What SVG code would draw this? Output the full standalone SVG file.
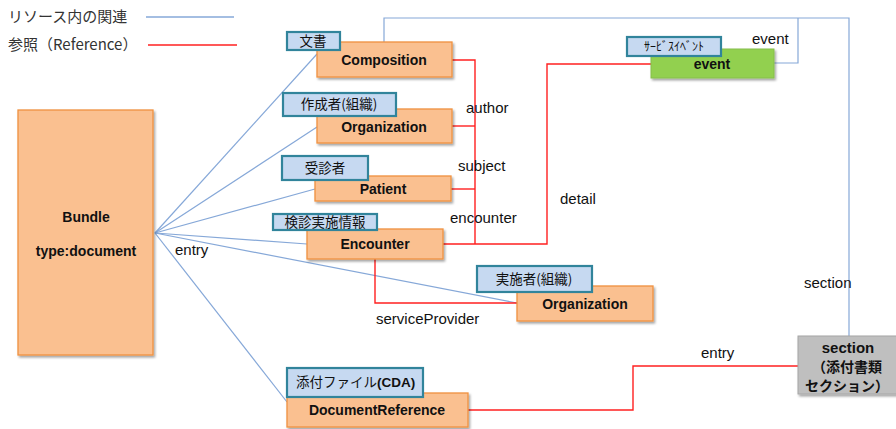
<svg xmlns="http://www.w3.org/2000/svg" width="896" height="429" viewBox="0 0 896 429">
  <defs>
    <filter id="shadow" x="-10%" y="-10%" width="130%" height="140%">
      <feDropShadow dx="1.5" dy="2" stdDeviation="1.2" flood-color="#000" flood-opacity="0.35"/>
    </filter>
  </defs>
  <style>
    .res { fill: #FAC090; stroke: #F0913F; stroke-width: 1.3; filter: url(#shadow); }
    .grn { fill: #92D050; stroke: #86BE4A; stroke-width: 1; filter: url(#shadow); }
    .sec { fill: #BFBFBF; stroke: #A6A6A6; stroke-width: 1; filter: url(#shadow); }
    .tag { fill: #C6D9F1; stroke: #31849B; stroke-width: 2.2; }
    .inner { fill: none; stroke: #86A8D8; stroke-width: 1.2; }
    .ref { fill: none; stroke: #FF2020; stroke-width: 1.4; }
    .t { font-family: "Liberation Sans", "Noto Sans CJK JP", sans-serif; fill: #111; }
    .b { font-weight: bold; font-size: 14px; text-anchor: middle; }
    .j { font-family: "Noto Sans CJK JP", "Liberation Sans", sans-serif; font-size: 13.5px; text-anchor: middle; fill: #111; }
    .js { font-family: "Noto Sans CJK JP", "Liberation Sans", sans-serif; font-size: 13.5px; text-anchor: start; fill: #111; }
    .lab { font-size: 15px; }
    .leg { font-family: "Noto Sans CJK JP", "Liberation Sans", sans-serif; font-size: 15px; fill: #333; }
  </style>

  <!-- legend -->
  <g id="legend">
    <text class="leg" x="8" y="22">リソース内の関連</text>
    <line x1="146" y1="17" x2="234" y2="17" stroke="#86A8D8" stroke-width="1.3"/>
    <text class="leg" x="8" y="50">参照（Reference）</text>
    <line x1="148" y1="45" x2="237" y2="45" stroke="#FF2020" stroke-width="1.4"/>
  </g>

  <!-- connectors -->
  <g id="connectors">
    <!-- Bundle entries -->
    <polyline class="inner" points="155,233 317,54"/>
    <polyline class="inner" points="155,233 317,127"/>
    <polyline class="inner" points="155,233 315,189"/>
    <polyline class="inner" points="155,233 307,244"/>
    <polyline class="inner" points="155,233 517,303"/>
    <polyline class="inner" points="155,233 287,402"/>
    <!-- Composition section / event -->
    <polyline class="inner" points="384,42 384,18 849,18 849,336"/>
    <polyline class="inner" points="798,18 798,63 774,63"/>
    <!-- references -->
    <polyline class="ref" points="452,60 475,60 475,244"/>
    <polyline class="ref" points="452,126 475,126"/>
    <polyline class="ref" points="451,189 475,189"/>
    <polyline class="ref" points="443,244 547,244 547,64 651,64"/>
    <polyline class="ref" points="375,259 375,303 517,303"/>
    <polyline class="ref" points="468,410 633,410 633,366 798,366"/>

    <text class="t lab" x="175" y="255">entry</text>
    <text class="t lab" x="466" y="113">author</text>
    <text class="t lab" x="458" y="171">subject</text>
    <text class="t lab" x="450" y="223">encounter</text>
    <text class="t lab" x="560" y="204">detail</text>
    <text class="t lab" x="376" y="324">serviceProvider</text>
    <text class="t lab" x="752" y="44">event</text>
    <text class="t lab" x="804" y="288">section</text>
    <text class="t lab" x="701" y="358">entry</text>
  </g>

  <g id="bundle">
    <rect class="res" x="18" y="110" width="135" height="245"/>
    <text class="t b" x="86" y="222">Bundle</text>
    <text class="t b" x="86" y="256">type:document</text>
  </g>

  <g id="composition">
    <rect class="res" x="317" y="42" width="135" height="35"/>
    <text class="t b" x="384" y="65">Composition</text>
    <rect class="tag" x="287" y="32" width="53" height="18"/>
    <text class="j" x="313" y="46">文書</text>
  </g>

  <g id="author-org">
    <rect class="res" x="317" y="109" width="135" height="34"/>
    <text class="t b" x="384" y="132">Organization</text>
    <rect class="tag" x="283" y="93" width="113" height="23"/>
    <text class="j" x="339" y="109">作成者(組織)</text>
  </g>

  <g id="patient">
    <rect class="res" x="315" y="176" width="136" height="25"/>
    <text class="t b" x="383" y="194">Patient</text>
    <rect class="tag" x="282" y="156" width="86" height="24"/>
    <text class="j" x="325" y="173">受診者</text>
  </g>

  <g id="encounter">
    <rect class="res" x="307" y="229" width="136" height="30"/>
    <text class="t b" x="375" y="249">Encounter</text>
    <rect class="tag" x="273" y="214" width="104" height="16"/>
    <text class="j" x="325" y="227">検診実施情報</text>
  </g>

  <g id="provider-org">
    <rect class="res" x="517" y="286" width="136" height="35"/>
    <text class="t b" x="585" y="309">Organization</text>
    <rect class="tag" x="477" y="266" width="115" height="26"/>
    <text class="j" x="534" y="284">実施者(組織)</text>
  </g>

  <g id="event">
    <rect class="grn" x="651" y="49" width="123" height="29"/>
    <text class="t b" x="712" y="69">event</text>
    <rect class="tag" x="627" y="37" width="94" height="19"/>
    <text class="j" x="674" y="51" style="font-size:12px">ｻｰﾋﾞｽｲﾍﾞﾝﾄ</text>
  </g>

  <g id="document-reference">
    <rect class="res" x="287" y="393" width="181" height="34"/>
    <text class="t b" x="377" y="415">DocumentReference</text>
    <rect class="tag" x="287" y="368" width="136" height="29"/>
    <text class="js" x="296" y="387">添付ファイル<tspan style="font-family:'Liberation Sans',sans-serif;font-weight:bold">(CDA)</tspan></text>
  </g>

  <g id="section">
    <rect class="sec" x="798" y="336" width="100" height="58"/>
    <text class="t b" x="848" y="353" style="font-size:15px">section</text>
    <text class="j" x="847" y="372" style="font-size:14px;font-weight:bold">（添付書類</text>
    <text class="j" x="847" y="391" style="font-size:14px;font-weight:bold">セクション）</text>
  </g>
</svg>
